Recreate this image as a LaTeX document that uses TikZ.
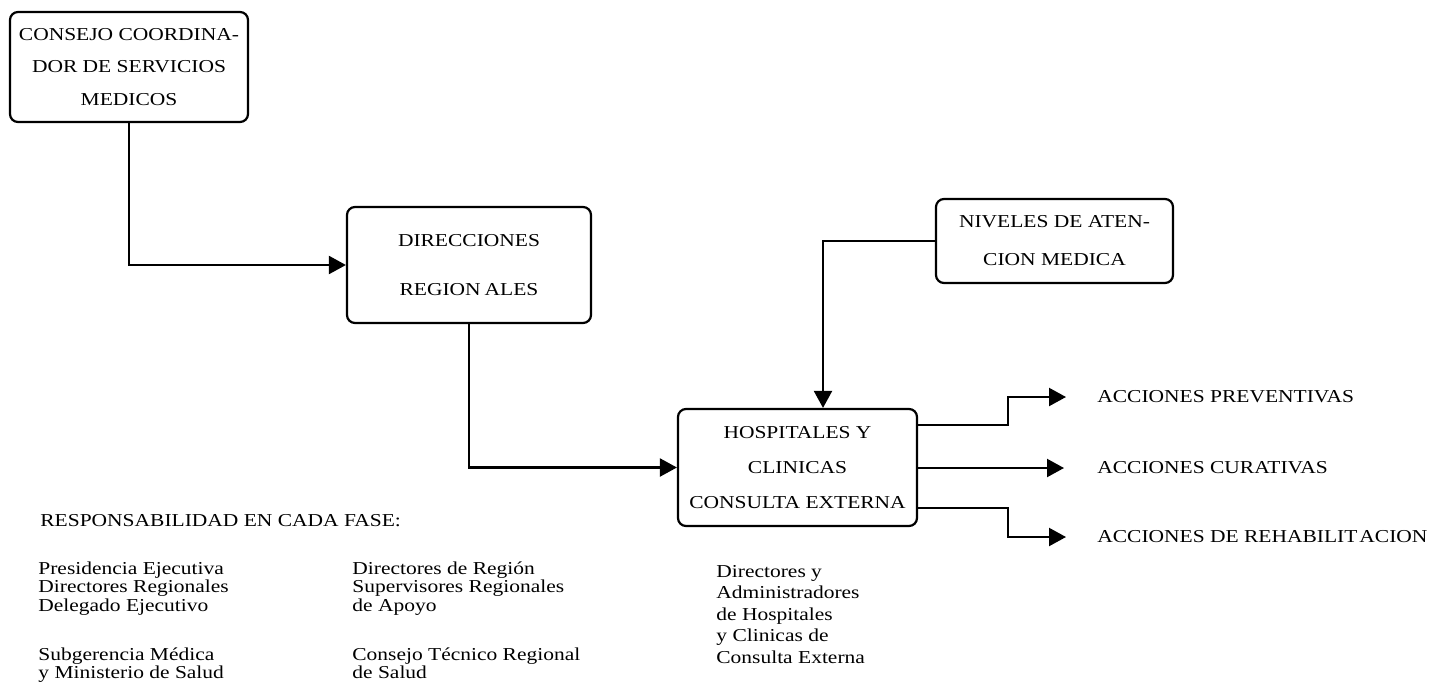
\documentclass[tikz,border=0pt]{standalone}
\usepackage{fontspec}
\setmainfont{Liberation Serif}
\newfontfamily\capsfont[FakeStretch=1.18]{Liberation Serif}
\usetikzlibrary{arrows.meta,calc}
\begin{document}
\begin{tikzpicture}[x=0.5pt,y=-0.5pt,
  box/.style={draw, line width=1.1pt, rounded corners=4pt, align=center, inner sep=0pt},
  boxfont/.style={font=\capsfont\fontsize{9.1pt}{#1}\selectfont},
  conn/.style={line width=1.1pt, -{Triangle[length=8.5pt,width=9pt]}},
  lbl/.style={inner sep=0pt, anchor=west, font=\capsfont\fontsize{9.1pt}{11pt}\selectfont},
  note/.style={inner sep=0pt, align=left, anchor=north west, font=\capsfont\fontsize{9.1pt}{#1}\selectfont}]
\useasboundingbox (0,0) rectangle (1449,686);

% boxes
\node[box, boxfont=16.25pt, minimum width=119pt, minimum height=55pt] (c) at (129,67)
  {CONSEJO COORDINA-\\DOR DE SERVICIOS\\MEDICOS};
\node[box, boxfont=24.5pt, minimum width=122pt, minimum height=58pt] (d) at (469,265)
  {DIRECCIONES\\REGION\kern2pt ALES};
\node[box, boxfont=17.5pt, minimum width=119.5pt, minimum height=58.5pt] (h) at (797.5,467.5)
  {HOSPITALES Y\\CLINICAS\\CONSULTA EXTERNA};
\node[box, boxfont=19pt, minimum width=118.5pt, minimum height=42pt] (n) at (1054.5,241)
  {NIVELES DE ATEN-\\CION MEDICA};

% connectors between boxes
\draw[conn] (c.south) |- (d.west);
\draw[conn] (d.south) |- (h.west);
\coordinate (hn) at ($(h.north)+(25.5,0)$);
\draw[conn] (n.west) -| (hn);

% outputs
\node[lbl] (pv) at (1097,397) {ACCIONES PREVENTIVAS};
\node[lbl] (cr) at (1097,468) {ACCIONES CURATIVAS};
\node[lbl] (rh) at (1097,537) {ACCIONES DE REHABILIT\kern1pt ACION};
\coordinate (pvtip) at ($(pv.west)+(-31,0)$);
\coordinate (crtip) at ($(cr.west)+(-33,0)$);
\coordinate (rhtip) at ($(rh.west)+(-31,0)$);
\draw[conn] ($(h.east)+(0,-42.5)$) -- ++(90,0) |- (pvtip);
\draw[conn] (h.east |- crtip) -- (crtip);
\draw[conn] ($(h.east)+(0,40.5)$) -- ++(90,0) |- (rhtip);

% responsibilities
\node[lbl] (resp) at (40,521) {RESPONSABILIDAD EN CADA FASE:};
\node[note=9.25pt] (r1a) at (38,561) {Presidencia Ejecutiva\\Directores Regionales\\Delegado Ejecutivo};
\node[note=9.25pt] (r1b) at (38,647) {Subgerencia Médica\\y Ministerio de Salud};
\node[note=9.25pt] (r2a) at (352,561) {Directores de Región\\Supervisores Regionales\\de Apoyo};
\node[note=9.25pt] (r2b) at (352,647) {Consejo Técnico Regional\\de Salud};
\node[note=10.75pt] (r3) at (716,565) {Directores y\\Administradores\\de Hospitales\\y Clinicas de\\Consulta Externa};
\end{tikzpicture}
\end{document}
